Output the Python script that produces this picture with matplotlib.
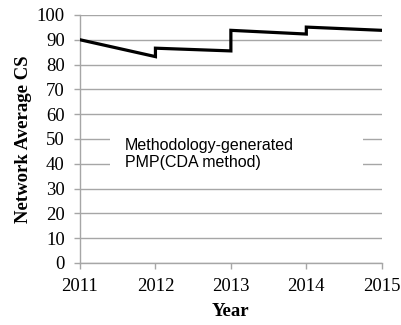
import matplotlib.pyplot as plt
import matplotlib.ticker as ticker

# network average CS, step changes at each year boundary
years = [2011, 2012, 2012, 2013, 2013, 2014, 2014, 2015]
cs = [90.0, 83.2, 86.6, 85.5, 93.8, 92.3, 95.1, 93.8]

year_ticks = [2011, 2012, 2013, 2014, 2015]
series_label = 'Methodology-generated\nPMP(CDA method)'

grid_color = '#a6a6a6'
serif = 'Liberation Serif'

fig = plt.figure(figsize=(4.01, 3.25), dpi=100)
ax = fig.add_axes([0.1995, 0.1908, 0.7525, 0.7632])

ax.plot(years, cs, color='black', linewidth=2.3, solid_joinstyle='miter',
        label=series_label, zorder=3)

ax.set_xlim(2011, 2015)
ax.set_ylim(0, 100)
ax.set_xticks(year_ticks)
ax.yaxis.set_major_locator(ticker.MultipleLocator(10))
ax.grid(axis='y', color=grid_color, linewidth=1)
ax.set_axisbelow(True)

for side in ['top', 'right']:
    ax.spines[side].set_visible(False)
for side in ['left', 'bottom']:
    ax.spines[side].set_color(grid_color)
    ax.spines[side].set_linewidth(1)

ax.tick_params(axis='both', direction='out', length=4.5, width=1, color=grid_color,
               labelsize=13.5)
ax.tick_params(axis='y', pad=6.5)
ax.tick_params(axis='x', pad=6)
for lbl in ax.get_xticklabels() + ax.get_yticklabels():
    lbl.set_fontfamily(serif)

ax.set_xlabel('Year', fontfamily=serif, fontweight='bold', fontsize=13.5, labelpad=6)
ax.set_ylabel('Network Average CS', fontfamily=serif, fontweight='bold',
              fontsize=13.5, labelpad=3)

leg = ax.legend(loc='center left', bbox_to_anchor=(0.0995, 0.34, 0.838, 0.2), mode='expand',
                borderaxespad=0, handlelength=0, handletextpad=0.55, borderpad=0.4,
                fancybox=False, framealpha=1, prop={'family': 'Liberation Sans', 'size': 11.5})
leg.get_frame().set_edgecolor('none')
leg.get_frame().set_facecolor('white')
for h in leg.legend_handles:
    h.set_visible(False)

fig.savefig('out.png', dpi=100)
